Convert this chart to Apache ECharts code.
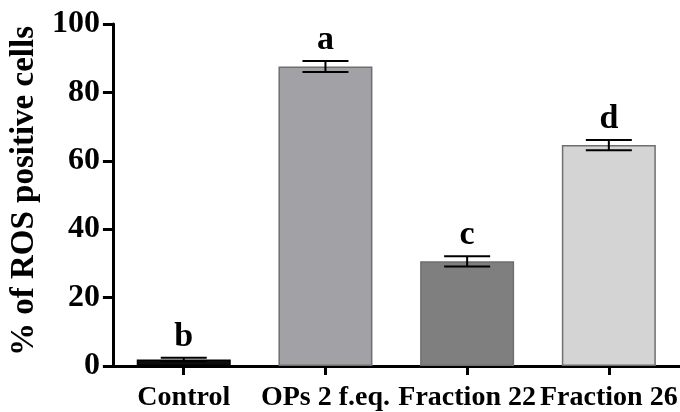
<!DOCTYPE html>
<html>
<head>
<meta charset="utf-8">
<script src="https://cdn.jsdelivr.net/npm/echarts@6/dist/echarts.min.js"></script>
<style>html,body{margin:0;padding:0;background:#fff}#c{width:680px;height:412px}</style>
</head>
<body>
<div id="c"></div>
<script>
const categories = ['Control', 'OPs 2 f.eq.', 'Fraction 22', 'Fraction 26'];
const means = [1.9, 87.6, 30.6, 64.6];
const errors = [0.5, 1.6, 1.5, 1.5];
const letters = ['b', 'a', 'c', 'd'];
const barColors = ['#0d0d0d', '#a2a2a6', '#7f7f7f', '#d4d4d4'];
const yTicks = [0, 20, 40, 60, 80, 100];

const FONT = '"Liberation Serif", "Times New Roman", serif';
const chart = echarts.init(document.getElementById('c'));
chart.setOption({
  animation: false,
  backgroundColor: '#fff',
  grid: { left: 111, right: -3, top: 24, bottom: 46 },
  xAxis: {
    type: 'category',
    data: categories,
    axisLine: { lineStyle: { color: '#000', width: 3 } },
    axisTick: { show: true, alignWithLabel: true, length: 9, lineStyle: { color: '#000', width: 3 } },
    axisLabel: { color: '#000', fontFamily: FONT, fontWeight: 'bold', fontSize: 28, margin: 18, interval: 0 }
  },
  yAxis: {
    type: 'value',
    min: yTicks[0], max: yTicks[yTicks.length - 1], interval: 20,
    name: '% of ROS positive cells',
    nameLocation: 'middle',
    nameGap: 62,
    nameTextStyle: { color: '#000', fontFamily: FONT, fontWeight: 'bold', fontSize: 33, padding: [0, 0, 0, 8] },
    axisLine: { show: true, lineStyle: { color: '#000', width: 3 } },
    axisTick: { show: true, length: 10, lineStyle: { color: '#000', width: 3 } },
    axisLabel: { color: '#000', fontFamily: FONT, fontWeight: 'bold', fontSize: 32, margin: 13 },
    splitLine: { show: false }
  },
  series: [
    {
      type: 'bar',
      barWidth: 94,
      data: means.map((v, i) => ({
        value: v,
        itemStyle: { color: barColors[i], borderColor: i === 0 ? '#000' : '#6f6f6f', borderWidth: 1.5 }
      })),
      z: 2
    },
    {
      type: 'custom',
      z: 5,
      data: means.map((m, i) => [i, m, errors[i]]),
      renderItem: function (params, api) {
        const i = api.value(0), m = api.value(1), e = api.value(2);
        const top = api.coord([i, m + e]);
        const bot = api.coord([i, m - e]);
        const hw = 23;
        const ls = { stroke: '#000', lineWidth: 2 };
        return {
          type: 'group',
          children: [
            { type: 'line', shape: { x1: top[0], y1: top[1], x2: bot[0], y2: bot[1] }, style: ls },
            { type: 'line', shape: { x1: top[0] - hw, y1: top[1], x2: top[0] + hw, y2: top[1] }, style: ls },
            { type: 'line', shape: { x1: bot[0] - hw, y1: bot[1], x2: bot[0] + hw, y2: bot[1] }, style: ls },
            { type: 'text', style: { text: letters[params.dataIndex], x: top[0], y: top[1] - 4,
              textAlign: 'center', textVerticalAlign: 'bottom', verticalAlign: 'bottom',
              font: 'bold 34px ' + FONT, fill: '#000' } }
          ]
        };
      }
    }
  ]
});
</script>
</body>
</html>
